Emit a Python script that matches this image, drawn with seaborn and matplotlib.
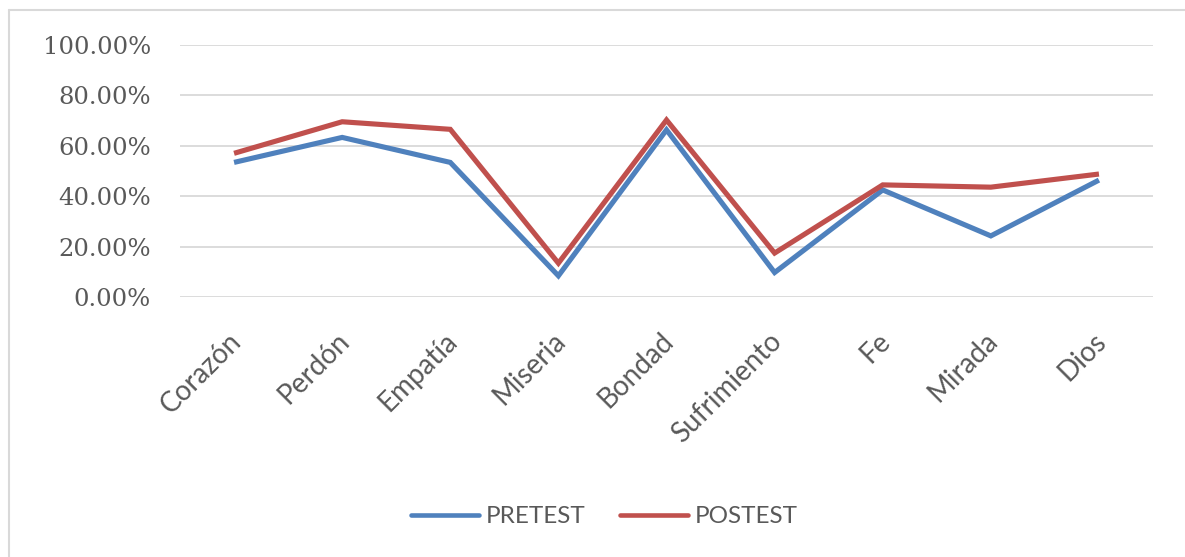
import matplotlib
matplotlib.use("Agg")
import matplotlib.pyplot as plt
import matplotlib.transforms as mtransforms
from matplotlib.lines import Line2D
import seaborn as sns
import pandas as pd

categories = ["Corazón", "Perdón", "Empatía", "Miseria", "Bondad",
              "Sufrimiento", "Fe", "Mirada", "Dios"]
pretest = [53.4, 63.3, 53.4, 8.5, 66.3, 9.8, 42.5, 24.3, 46.4]
posttest = [57.0, 69.5, 66.5, 13.5, 70.2, 17.5, 44.5, 43.6, 48.8]
series_names = ["PRETEST", "POSTEST"]
colors = ["#4F81BD", "#C0504D"]
yticks = [0, 20, 40, 60, 80, 100]

df = pd.DataFrame({
    "cat": categories * 2,
    "val": pretest + posttest,
    "serie": [series_names[0]] * len(categories) + [series_names[1]] * len(categories),
})

sns.set_theme(style="white")
plt.rcParams["font.family"] = ["Lato", "DejaVu Sans"]

fig = plt.figure(figsize=(11.85, 5.57), dpi=100)
ax = fig.add_axes([0.1519, 0.4663, 0.8211, 0.4534])

sns.lineplot(data=df, x="cat", y="val", hue="serie", palette=colors,
             sort=False, linewidth=3.7, ax=ax, legend=False,
             solid_joinstyle="miter", solid_capstyle="butt")

ax.set_xlim(-0.5, len(categories) - 0.5)
ax.set_ylim(0, 100)
ax.set_yticks(yticks)
ax.set_yticklabels([f"{v:.2f}%" for v in yticks], family="DejaVu Serif",
                   fontsize=17.5, color="#595959")
ax.yaxis.grid(True, color="#D9D9D9", linewidth=1.3)
ax.set_axisbelow(True)
for s in ax.spines.values():
    s.set_visible(False)
ax.tick_params(axis="y", length=0, pad=21)
ax.tick_params(axis="x", length=0, pad=22)
ax.set_xticks(range(len(categories)))
ax.set_xticklabels(categories, rotation=45, ha="right", rotation_mode="anchor",
                   fontsize=20, color="#595959")
offset = mtransforms.ScaledTranslation(-6 / 100, 0, fig.dpi_scale_trans)
for lbl in ax.get_xticklabels():
    lbl.set_transform(lbl.get_transform() + offset)
ax.set_xlabel("")
ax.set_ylabel("")

handles = [Line2D([0], [0], color=c, linewidth=3.3) for c in colors]
fig.legend(handles, series_names, loc="center", bbox_to_anchor=(0.51, 0.072),
           ncol=2, frameon=False, handlelength=2.8, handletextpad=0.3,
           columnspacing=1.4, prop={"family": "Lato", "size": 17.5},
           labelcolor="#595959")

# outer chart border (top and left visible)
fig.add_artist(Line2D([9 / 1185, 9 / 1185], [0, 1 - 10 / 557], color="#D9D9D9",
                      linewidth=1.5, transform=fig.transFigure))
fig.add_artist(Line2D([9 / 1185, 1], [1 - 10 / 557, 1 - 10 / 557], color="#D9D9D9",
                      linewidth=1.5, transform=fig.transFigure))

fig.savefig("out.png", dpi=100, facecolor="white")
